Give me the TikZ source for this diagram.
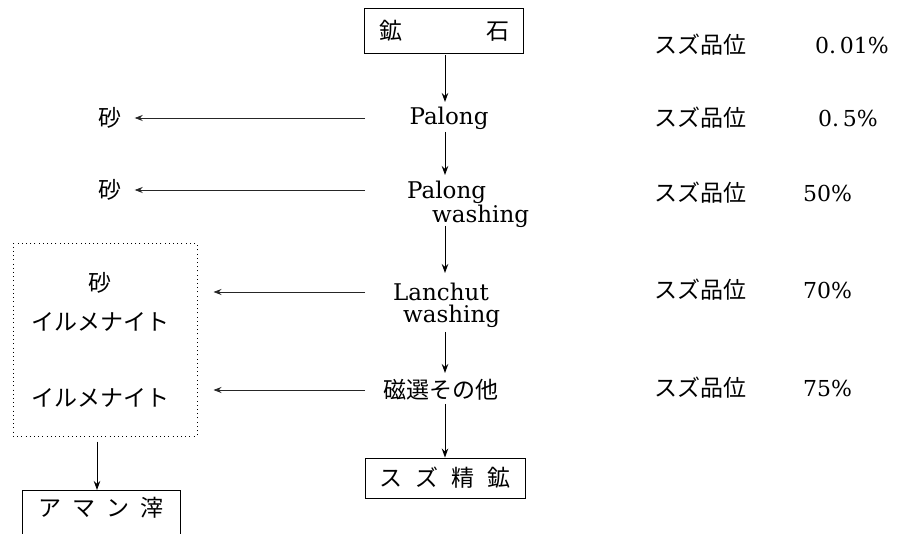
\documentclass[tikz,border=0pt]{standalone}
\usepackage{fontspec}
\newfontfamily\jp{Noto Sans CJK JP}
\newfontfamily\lat{DejaVu Serif}
\usetikzlibrary{arrows.meta}
\tikzset{
  jtext/.style={inner sep=0pt, font=\jp\fontsize{23}{27}\selectfont},
  ltext/.style={inner sep=0pt, align=left, font=\lat\fontsize{23}{22}\selectfont},
  ntext/.style={inner sep=0pt, font=\lat\fontsize{22}{26}\selectfont, anchor=west},
  boxnode/.style={draw, line width=0.9pt, inner sep=0pt},
  darr/.style={line width=0.9pt, -{Stealth[length=9pt,width=6.5pt]}},
  larr/.style={line width=0.8pt, black!85, -{Stealth[length=8pt,width=6pt]}},
  dotbox/.style={draw, line width=1pt, dash pattern=on 1pt off 3.2pt, inner sep=0pt}
}
\begin{document}
\begin{tikzpicture}[x=1pt,y=-1pt]
\clip (0,0) rectangle (897,534);
\fill[white] (0,0) rectangle (897,534);
% main column
\node[boxnode, minimum width=159pt, minimum height=45pt] (ore) at (444,30.5) {};
\node[jtext] at (ore) {鉱\hspace{84pt}石};
\node[ltext] (p1) at (449,118) {Palong};
\node[ltext, anchor=north west] (pw) at (407,181) {Palong\\\hspace{25pt}washing};
\node[ltext, anchor=north west] (lw) at (393,283) {Lanchut\\\hspace{10pt}washing};
\node[jtext] (mag) at (441,390) {磁選その他};
\node[boxnode, minimum width=160pt, minimum height=40pt] (conc) at (445,478) {};
\node[jtext] at (conc) {ス\hspace{13pt}ズ\hspace{13pt}精\hspace{13pt}鉱};
% vertical arrows
\draw[darr] ([xshift=1pt]ore.south) ++(0,2) -- (445,102);
\draw[darr] (445,132) -- (445,175);
\draw[darr] (445,226) -- (445,273);
\draw[darr] (445,332) -- (445,373);
\draw[darr] (445,404) -- (conc.north);
% left side
\node[jtext] (sand1) at (110,118) {砂};
\node[jtext] (sand2) at (110,190) {砂};
\node[dotbox, minimum width=184pt, minimum height=192pt] (rej) at (105,340) {};
\node[jtext] (sand3) at (100,283) {砂};
\node[jtext] (il1) at (100,322) {イルメナイト};
\node[jtext] (il2) at (100,398) {イルメナイト};
\coordinate (s1) at (365,118);
\coordinate (s2) at (365,190);
\coordinate (s3) at (365,292);
\coordinate (s4) at (365,390);
\draw[larr] (s1) -- ([xshift=13pt]sand1.east |- s1);
\draw[larr] (s2) -- ([xshift=13pt]sand2.east |- s2);
\draw[larr] (s3) -- ([xshift=16pt]rej.east |- s3);
\draw[larr] (s4) -- ([xshift=16pt]rej.east |- s4);
\node[boxnode, minimum width=158pt, minimum height=60pt, anchor=north] (aman) at (101,490) {};
\node[jtext] at (101,508) {ア\hspace{11pt}マ\hspace{11pt}ン\hspace{11pt}滓};
\draw[darr] ([xshift=-8pt]rej.south) ++(0,5) -- ([xshift=-8pt]rej.south |- aman.north);
% right column
\node[jtext] (g0) at (700,45) {スズ品位};
\node[jtext] (g1) at (700,118) {スズ品位};
\node[jtext] (g2) at (700,193) {スズ品位};
\node[jtext] (g3) at (700,290) {スズ品位};
\node[jtext] (g4) at (700,388) {スズ品位};
\node[ntext] (v0) at (815,45) {0.\,01\%};
\node[ntext] (v1) at (818,118) {0.\,5\%};
\node[ntext] (v2) at (803,193) {50\%};
\node[ntext] (v3) at (803,290) {70\%};
\node[ntext] (v4) at (803,388) {75\%};
\end{tikzpicture}
\end{document}
